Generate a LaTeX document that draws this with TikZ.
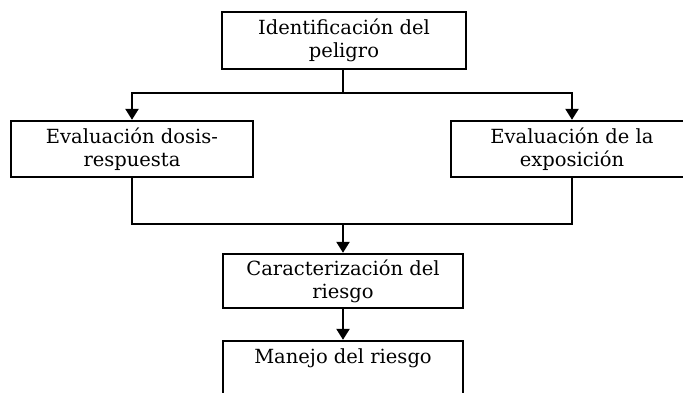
\documentclass[tikz,border=0pt]{standalone}
\usepackage{fontspec}
\setmainfont{DejaVu Serif}
\usetikzlibrary{arrows.meta}
\tikzset{
  box/.style={draw, line width=2.4pt, rectangle, align=center, inner sep=0pt,
    font=\fontsize{19.5}{23}\selectfont},
  conn/.style={line width=2.4pt},
  arr/.style={conn, -{Triangle[width=13pt,length=11pt]}}
}
\begin{document}
\begin{tikzpicture}[x=1pt,y=-1pt]
\clip (0,0) rectangle (683,392);
\fill[white] (0,0) rectangle (683,392);
\node[box, minimum width=244pt, minimum height=57pt] (top) at (344,40.5) {Identificación del\\peligro};
\node[box, minimum width=242pt, minimum height=56pt] (left) at (132,149) {Evaluación dosis-\\respuesta};
\node[box, minimum width=242pt, minimum height=56pt] (right) at (572,149) {Evaluación de la\\exposición};
\node[box, minimum width=240pt, minimum height=54pt] (car) at (343,281) {Caracterización del\\riesgo};
\node[box, minimum width=240pt, minimum height=54pt] (man) at (343,368) {Manejo del riesgo\\\mbox{}};
\coordinate (j1) at (343,93);
\coordinate (j2) at (343,224);
\draw[conn] (top.south -| j1) -- (j1);
\draw[arr] (j1) -| (left.north);
\draw[arr] (j1) -| (right.north);
\draw[conn] (left.south) |- (j2) -| (right.south);
\draw[arr] (j2) -- (car.north);
\draw[arr] (car.south) -- (man.north);
\end{tikzpicture}
\end{document}
